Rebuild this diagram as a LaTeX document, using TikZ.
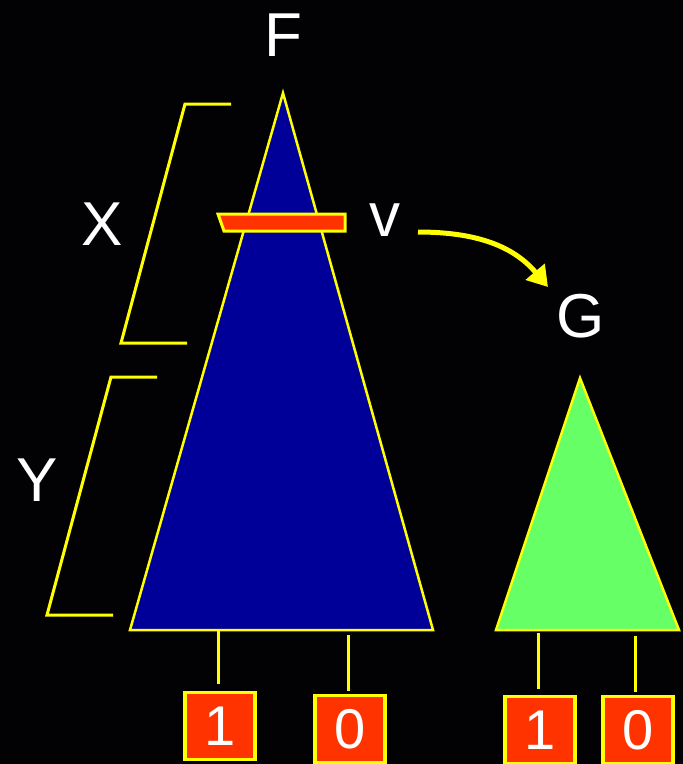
\documentclass[tikz,border=0pt]{standalone}
\usepackage{fontspec}
\setmainfont{Liberation Sans}
\usetikzlibrary{arrows.meta}
\begin{document}
\begin{tikzpicture}[x=1pt, y=-1pt,
    label/.style={text=white, inner sep=0pt, font=\fontsize{62}{62}\selectfont},
    bitbox/.style={draw=lineColour, fill=barColour, line width=3.5pt, text=white,
        minimum width=70pt, minimum height=67pt, inner sep=0pt,
        font=\fontsize{56}{56}\selectfont},
    wire/.style={draw=lineColour, line width=3pt}]
    \definecolor{lineColour}{HTML}{FFFF00}
    \definecolor{fillColourF}{HTML}{000099}
    \definecolor{fillColourG}{HTML}{66FF66}
    \definecolor{barColour}{HTML}{FF3300}
    \definecolor{backColour}{HTML}{020205}

    % Background
    \fill[backColour] (0,0) rectangle (683,764);
    \useasboundingbox (0,0) rectangle (683,764);

    % Triangle F
    \coordinate (Ftop) at (283,93);
    \coordinate (Fleft) at (130,630);
    \coordinate (Fright) at (433,630);
    \filldraw[fill=fillColourF, draw=lineColour, line width=2.5pt] (Ftop) -- (Fleft) -- (Fright) -- cycle;
    \node[label] (F) at (283,35) {F};

    % Cut v across F
    \filldraw[fill=barColour, draw=lineColour, line width=3pt]
        (218,214) -- (345,214) -- (345,231) -- (224,231) -- cycle;
    \node[label] (v) at (385,220) {v};

    % Triangle G
    \coordinate (Gtop) at (580,378);
    \coordinate (Gleft) at (496,630);
    \coordinate (Gright) at (679,630);
    \filldraw[fill=fillColourG, draw=lineColour, line width=2.5pt] (Gtop) -- (Gleft) -- (Gright) -- cycle;
    \node[label] (G) at (581,316) {G};

    % Arrow from v to G
    \coordinate (arrStart) at (418,232);
    \coordinate (arrEnd) at (548,287);
    \draw[lineColour, line width=5pt, -{Triangle[length=20pt,width=24pt]}]
        (arrStart) .. controls (480,232) and (515,248) .. (arrEnd);

    % Brackets X and Y
    \draw[wire] (231,104) -- (185,104) -- (121,343) -- (187,343);
    \node[label] (X) at (102,224) {X};
    \draw[wire] (157,377) -- (111,377) -- (47,615) -- (113,615);
    \node[label] (Y) at (37,480) {Y};

    % Terminal boxes
    \node[bitbox] (F1) at (220,726) {1};
    \node[bitbox] (F0) at (350,729) {0};
    \node[bitbox] (G1) at (540,730) {1};
    \node[bitbox] (G0) at (638,730) {0};

    % Stems to the boxes
    \coordinate (sF1) at (218,630);
    \coordinate (sF0) at (348,635);
    \coordinate (sG1) at (538,633);
    \coordinate (sG0) at (635,636);
    \draw[wire, shorten >=7pt] (sF1) -- (sF1 |- F1.north);
    \draw[wire, shorten >=3pt] (sF0) -- (sF0 |- F0.north);
    \draw[wire, shorten >=6pt] (sG1) -- (sG1 |- G1.north);
    \draw[wire, shorten >=3pt] (sG0) -- (sG0 |- G0.north);

\end{tikzpicture}
\end{document}
